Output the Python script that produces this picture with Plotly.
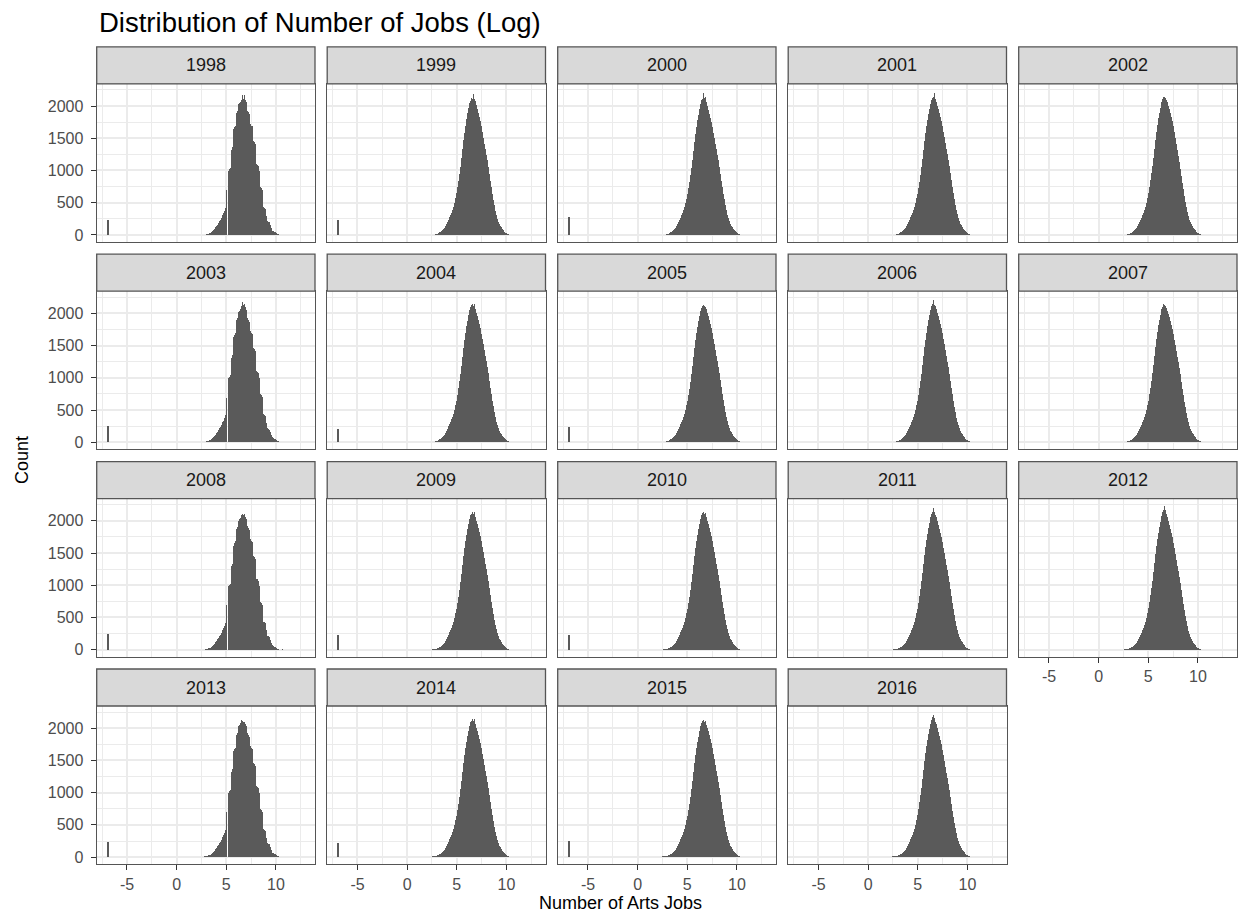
import plotly.graph_objects as go

W, H = 1239, 921

years = [1998, 1999, 2000, 2001, 2002, 2003, 2004, 2005, 2006, 2007,
         2008, 2009, 2010, 2011, 2012, 2013, 2014, 2015, 2016]

# histogram bins: width 0.1, first bin centred on 2.0 (2.0 ... 11.0)
bin_start = 2.0
bin_width = 0.1

counts_1998 = [0,0,0,0,0,0,0,2,4,6, 10,18,25,30,35,45,65,80,95,120, 140,160,190,220,240,270,310,340,370,420,
               700,0,1000,1020,1040,1320,1360,1640,1680,1700, 1900,1930,2030,2050,2070,2100,2180,2120,2170,2100,
               2060,1930,1910,1880,1720,1700,1690,1460,1440,1420, 1100,1090,1080,1000,740,730,700,430,420,410,
               300,220,210,200,150,110,70,60,55,50, 40,20,10,5,2,0,0,0,0,0, 0]
counts_1999 = [0,0,0,0,1,2,3,5,8,12, 18,25,33,42,52,63,78,93,115,140, 170,205,240,275,310,350,390,440,505,575,
               650,740,840,950,1060,1190,1330,1470,1590,1700, 1800,1890,1970,2050,2080,2130,2110,2190,2120,2080,
               2020,1960,1900,1840,1770,1690,1600,1510,1420,1330, 1250,1160,1060,950,840,740,640,550,460,380,
               310,255,210,175,145,120,95,75,56,40, 28,18,12,7,4,3,2,1,0,0, 0]
counts_2000 = [0,0,0,0,1,2,3,5,8,12, 17,24,32,41,51,62,76,92,112,138, 165,200,235,270,305,345,385,430,495,565,
               635,725,825,935,1045,1170,1310,1450,1570,1680, 1780,1870,1950,2030,2100,2120,2200,2130,2150,2060,
               2000,1940,1880,1820,1760,1680,1590,1510,1420,1330, 1250,1160,1060,950,845,745,645,555,465,385,
               315,260,215,178,148,122,98,76,57,41, 29,19,12,7,4,3,2,1,0,0, 0]
counts_2001 = [0,0,0,0,1,2,3,5,8,12, 18,25,33,42,52,63,78,93,115,140, 170,205,240,275,310,350,390,435,500,570,
               640,730,830,940,1050,1180,1320,1460,1580,1690, 1790,1880,1960,2040,2090,2130,2150,2200,2110,2060,
               2000,1950,1890,1830,1770,1690,1600,1520,1430,1340, 1260,1170,1070,960,850,750,650,560,470,390,
               320,265,220,180,150,125,100,78,58,42, 30,20,13,8,5,3,2,1,1,0, 0]
counts_2002 = [0,0,0,0,0,1,2,4,6,10, 15,21,28,36,46,58,72,90,110,135, 165,200,235,270,305,345,390,440,505,575,
               650,745,850,960,1075,1200,1340,1480,1600,1710, 1810,1900,1980,2060,2110,2140,2150,2130,2100,2060,
               2010,1960,1900,1840,1770,1690,1600,1510,1420,1320, 1230,1130,1030,920,810,710,610,520,435,360,
               295,240,200,165,138,115,92,72,54,39, 27,17,11,7,4,2,1,1,0,0, 0]
counts_2003 = [0,0,0,0,0,0,1,3,5,8, 12,18,24,30,36,46,64,80,96,118, 140,162,188,215,240,268,305,335,368,415,
               690,0,1000,1015,1035,1310,1350,1630,1670,1700, 1890,1920,2020,2040,2060,2110,2170,2130,2150,2090,
               2050,1930,1900,1870,1720,1700,1680,1460,1440,1410, 1100,1090,1070,990,740,725,700,430,420,405,
               300,220,210,195,150,110,72,60,55,48, 38,20,10,5,2,0,0,0,0,0, 0]
counts_2004 = [0,0,0,0,1,2,3,5,8,12, 18,25,33,42,53,64,80,95,118,143, 172,208,243,278,315,355,395,440,505,575,
               645,735,835,945,1055,1185,1325,1465,1585,1695, 1795,1885,1965,2045,2095,2130,2140,2120,2150,2070,
               2010,1950,1890,1830,1765,1685,1595,1515,1425,1335, 1255,1165,1065,955,845,745,645,555,465,385,
               318,262,218,178,148,123,99,77,57,41, 29,19,12,8,5,3,2,1,0,0, 0]
counts_2005 = [0,0,0,0,1,2,3,5,8,12, 18,25,33,42,52,63,78,93,115,140, 170,205,240,275,310,350,390,435,500,570,
               640,730,830,940,1050,1180,1320,1460,1580,1690, 1790,1880,1960,2030,2080,2110,2130,2120,2100,2060,
               2010,1950,1890,1830,1770,1690,1600,1520,1430,1340, 1260,1170,1070,960,850,750,650,560,470,390,
               320,265,220,180,150,125,100,78,58,42, 30,20,13,8,5,3,2,1,1,0, 0]
counts_2006 = [0,0,0,0,0,1,2,4,7,11, 16,23,31,40,50,61,76,91,112,137, 167,202,237,272,308,348,390,438,503,573,
               645,735,838,948,1060,1190,1330,1470,1590,1700, 1800,1890,1970,2050,2110,2140,2200,2130,2110,2070,
               2010,1950,1890,1830,1770,1690,1600,1515,1425,1335, 1250,1160,1060,950,840,740,640,550,460,380,
               310,258,214,176,146,121,97,76,56,40, 29,19,12,7,4,3,2,1,0,0, 0]
counts_2007 = [0,0,0,0,0,1,2,4,7,11, 16,23,31,40,50,61,76,91,112,137, 167,202,237,272,308,348,390,438,503,573,
               645,740,845,955,1070,1200,1340,1480,1600,1710, 1810,1900,1980,2060,2100,2150,2130,2110,2080,2040,
               1990,1940,1880,1820,1760,1680,1590,1500,1410,1320, 1240,1150,1050,940,830,730,630,540,455,375,
               305,250,208,172,143,119,95,74,55,39, 28,18,12,7,4,3,2,1,0,0, 0]
counts_2008 = [0,0,0,0,0,2,4,6,8,10, 14,20,26,32,38,48,66,82,98,120, 142,165,190,218,242,270,308,338,370,418,
               700,0,990,1010,1030,1300,1340,1620,1660,1690, 1880,1910,2010,2030,2050,2090,2120,2100,2110,2060,
               2030,1920,1890,1860,1720,1700,1680,1460,1440,1420, 1110,1100,1080,1000,750,735,705,440,430,415,
               310,225,215,200,155,115,75,62,56,50, 40,22,12,6,3,0,12,0,0,0, 0]
counts_2009 = [0,0,0,0,3,8,12,15,18,20, 24,28,34,42,52,63,78,93,115,140, 170,205,240,275,310,350,390,435,500,570,
               640,730,830,940,1050,1180,1320,1460,1580,1690, 1790,1880,1960,2040,2090,2120,2150,2110,2140,2060,
               2010,1950,1890,1830,1770,1690,1600,1520,1430,1340, 1260,1170,1070,960,850,750,650,560,470,390,
               320,265,220,180,150,125,100,78,58,42, 30,20,13,8,5,3,2,1,1,0, 0]
counts_2010 = [0,0,0,0,4,9,13,16,19,21, 25,29,35,43,53,64,79,94,116,141, 170,205,240,275,310,350,390,435,500,570,
               640,730,830,940,1050,1180,1320,1460,1580,1690, 1790,1880,1960,2040,2100,2130,2150,2120,2130,2060,
               2010,1950,1890,1830,1770,1690,1600,1520,1430,1340, 1260,1170,1070,960,850,750,650,560,470,390,
               320,265,220,180,150,125,100,78,58,42, 30,20,13,8,5,3,2,1,1,0, 0]
counts_2011 = [0,0,0,0,3,8,12,15,18,20, 23,27,33,41,51,62,77,92,113,138, 168,203,238,273,308,348,390,438,503,573,
               645,738,840,952,1065,1195,1335,1475,1595,1705, 1805,1895,1975,2060,2110,2150,2200,2140,2100,2060,
               2000,1940,1880,1820,1760,1680,1590,1505,1415,1325, 1245,1155,1055,945,835,735,635,545,458,378,
               308,254,210,173,144,120,96,75,56,40, 29,19,12,7,4,3,2,1,0,0, 0]
counts_2012 = [0,0,0,0,3,8,12,15,18,20, 23,27,33,41,51,62,77,92,113,138, 168,203,238,273,308,348,390,438,503,573,
               648,742,848,960,1075,1205,1350,1490,1610,1720, 1820,1910,1995,2075,2140,2180,2230,2170,2120,2070,
               2010,1945,1880,1815,1750,1670,1580,1490,1400,1310, 1230,1140,1040,930,820,720,620,530,445,368,
               300,248,205,170,141,117,94,73,54,39, 28,18,12,7,4,3,2,1,0,0, 0]
counts_2013 = [6,0,0,6,0,4,6,8,10,12, 15,20,26,32,38,48,66,82,98,120, 142,165,190,218,242,270,308,338,370,418,
               700,0,1000,1020,1040,1320,1360,1640,1680,1700, 1900,1930,2030,2050,2080,2130,2110,2100,2090,2060,
               2040,1920,1890,1870,1720,1700,1680,1460,1440,1420, 1100,1090,1080,1000,740,730,700,430,420,410,
               300,220,210,200,150,110,70,60,55,50, 40,20,10,5,2,0,0,0,0,0, 0]
counts_2014 = [0,0,0,0,3,8,12,15,18,20, 24,28,34,42,52,63,78,93,115,140, 170,205,240,275,310,350,390,435,500,570,
               640,730,830,940,1050,1180,1320,1460,1580,1690, 1790,1880,1960,2040,2090,2120,2150,2120,2140,2060,
               2010,1950,1890,1830,1770,1690,1600,1520,1430,1340, 1260,1170,1070,960,850,750,650,560,470,390,
               320,265,220,180,150,125,100,78,58,42, 30,20,13,8,5,3,8,1,0,0, 0]
counts_2015 = [0,0,0,0,5,10,14,17,19,21, 25,29,35,43,53,64,79,94,116,141, 170,205,240,275,310,350,390,435,500,570,
               640,730,830,940,1050,1180,1320,1460,1580,1690, 1790,1870,1950,2030,2080,2110,2130,2100,2120,2050,
               2000,1950,1890,1830,1770,1690,1600,1520,1430,1340, 1260,1170,1070,960,850,750,650,560,470,390,
               320,265,220,180,150,125,100,78,58,42, 30,20,13,8,5,3,2,1,1,0, 0]
counts_2016 = [4,4,5,0,5,10,14,17,19,21, 25,29,35,43,53,64,79,94,116,141, 170,205,240,275,310,350,390,438,503,573,
               648,742,848,960,1075,1205,1350,1490,1610,1720, 1820,1910,1990,2070,2130,2170,2200,2160,2100,2060,
               2000,1940,1880,1820,1750,1670,1580,1490,1400,1310, 1230,1140,1040,930,820,720,620,530,445,368,
               300,248,205,170,141,117,94,73,54,39, 28,18,12,7,4,3,2,1,0,0, 0]

# separate bar of zero-valued observations (log of ~0.001)
spike_x = -6.9
spike_counts = [240, 230, 285, 0, 0, 255, 205, 240, 0, 0, 255, 230, 230, 0, 0, 235, 215, 250, 0]

all_counts = [counts_1998, counts_1999, counts_2000, counts_2001, counts_2002, counts_2003, counts_2004,
              counts_2005, counts_2006, counts_2007, counts_2008, counts_2009, counts_2010, counts_2011,
              counts_2012, counts_2013, counts_2014, counts_2015, counts_2016]

x_ticks = [-5, 0, 5, 10]
x_minor = [-7.5, -2.5, 2.5, 7.5, 12.5]
y_ticks = [0, 500, 1000, 1500, 2000]
y_minor = [250, 750, 1250, 1750, 2250]

FONT = "Liberation Sans, Arial, sans-serif"
BAR = "rgba(89,89,89,0.995)"   # alpha < 1 makes plotly snap bars to whole pixels (keeps empty bins visible)
GRID = "#EBEBEB"
BORDER = "#555555"
TICKFONT = dict(family=FONT, size=16, color="#4D4D4D")

fig = go.Figure()

col_left0, col_step, panel_w = 96.7, 230.5, 218.3
row_top0, row_step, panel_h, strip_h = 83.8, 207.4, 158.2, 37.0

shapes, annotations = [], []
ncol = 5
for i, (yr, cnt, sp) in enumerate(zip(years, all_counts, spike_counts)):
    n = i + 1
    r, c = divmod(i, ncol)
    xs = [round(bin_start + k * bin_width, 1) for k in range(len(cnt))]
    fig.add_trace(go.Bar(x=xs, y=cnt, width=bin_width,
                         marker=dict(color=BAR, line=dict(width=0)),
                         xaxis=f"x{n}", yaxis=f"y{n}", showlegend=False, hoverinfo="x+y"))
    if sp > 0:
        fig.add_trace(go.Bar(x=[spike_x], y=[sp], width=0.2,
                             marker=dict(color=BAR, line=dict(width=0)),
                             xaxis=f"x{n}", yaxis=f"y{n}", showlegend=False, hoverinfo="x+y"))
    left = col_left0 + col_step * c
    right = left + panel_w
    top = row_top0 + row_step * r
    bottom = top + panel_h
    show_x = (r == 3) or (i + ncol >= len(years))
    show_y = (c == 0)
    fig.layout[f"xaxis{n}"] = dict(
        domain=[left / W, right / W], anchor=f"y{n}", range=[-8.05, 13.93],
        tickvals=x_ticks, ticktext=[str(v) for v in x_ticks], showticklabels=show_x,
        ticks="outside" if show_x else "", ticklen=5, tickwidth=1.2, tickcolor="#333333",
        tickfont=TICKFONT, ticklabelstandoff=0,
        showgrid=True, gridcolor=GRID, gridwidth=1.5, zeroline=False,
        minor=dict(tickvals=x_minor, showgrid=True, gridcolor=GRID, gridwidth=0.8, ticks=""),
        showline=True, mirror=True, linecolor=BORDER, linewidth=1.3, automargin=False, fixedrange=True)
    fig.layout[f"yaxis{n}"] = dict(
        domain=[1 - bottom / H, 1 - top / H], anchor=f"x{n}", range=[-110, 2345],
        tickvals=y_ticks, ticktext=[str(v) for v in y_ticks], showticklabels=show_y,
        ticks="outside" if show_y else "", ticklen=5, tickwidth=1.2, tickcolor="#333333",
        tickfont=TICKFONT, ticklabelstandoff=4,
        showgrid=True, gridcolor=GRID, gridwidth=1.5, zeroline=False,
        minor=dict(tickvals=y_minor, showgrid=True, gridcolor=GRID, gridwidth=0.8, ticks=""),
        showline=True, mirror=True, linecolor=BORDER, linewidth=1.3, automargin=False, fixedrange=True)
    shapes.append(dict(type="rect", xref="paper", yref="paper",
                       x0=left / W, x1=right / W, y0=1 - top / H, y1=1 - (top - strip_h) / H,
                       fillcolor="#D9D9D9", line=dict(color=BORDER, width=1.3), layer="above"))
    annotations.append(dict(x=(left + right) / 2 / W, y=1 - (top - strip_h / 2) / H, xref="paper", yref="paper",
                            text=str(yr), showarrow=False, xanchor="center", yanchor="middle",
                            font=dict(family=FONT, size=18, color="#1A1A1A")))

annotations.append(dict(x=96.7 / W, y=1 - 22 / H, xref="paper", yref="paper", text="Distribution of Number of Jobs (Log)",
                        showarrow=False, xanchor="left", yanchor="middle",
                        font=dict(family=FONT, size=27.5, color="#000000")))
annotations.append(dict(x=620 / W, y=1 - 903 / H, xref="paper", yref="paper", text="Number of Arts Jobs",
                        showarrow=False, xanchor="center", yanchor="middle",
                        font=dict(family=FONT, size=18, color="#000000")))
annotations.append(dict(x=22 / W, y=1 - 460 / H, xref="paper", yref="paper", text="Count", textangle=-90,
                        showarrow=False, xanchor="center", yanchor="middle",
                        font=dict(family=FONT, size=18, color="#000000")))

fig.update_layout(width=W, height=H, margin=dict(l=0, r=0, t=0, b=0),
                  paper_bgcolor="white", plot_bgcolor="white", bargap=0, barmode="overlay",
                  shapes=shapes, annotations=annotations, showlegend=False)

fig.write_html("out.html")
